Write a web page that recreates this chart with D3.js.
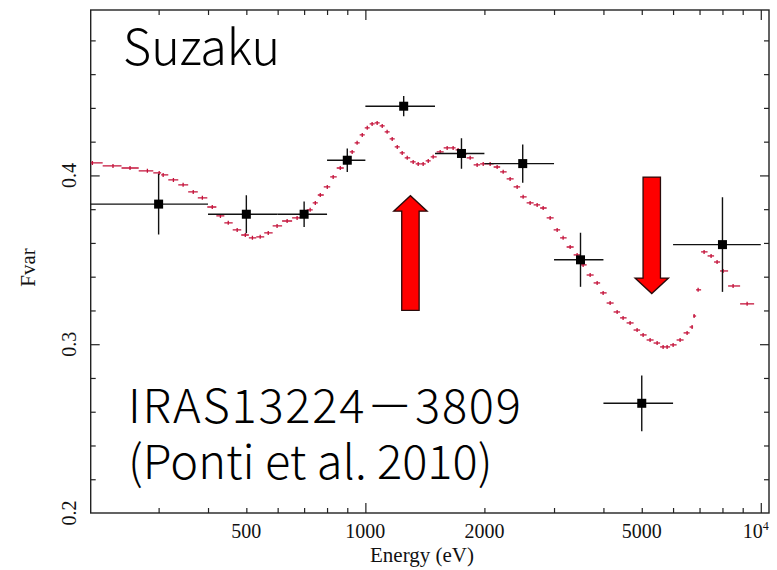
<!DOCTYPE html>
<html>
<head>
<meta charset="utf-8">
<script src="https://cdn.jsdelivr.net/npm/d3@7/dist/d3.min.js"></script>
<style>
  html, body { margin: 0; padding: 0; background: #fff; }
  svg { display: block; }
</style>
</head>
<body>
<svg id="chart" width="777" height="570"></svg>
<script>
// Fractional variability measured in energy bins (eV)
const binCenter = [300, 500, 700, 900, 1250, 1750, 2500, 3500, 5000, 8000];
const binLow    = [200, 400, 600, 800, 1000, 1500, 2000, 3000, 4000, 6000];
const binHigh   = [400, 600, 800, 1000, 1500, 2000, 3000, 4000, 6000, 10000];
const fvar      = [0.383, 0.377, 0.377, 0.409, 0.441, 0.413, 0.407, 0.350, 0.265, 0.359];
const fvarErr   = [0.018, 0.0113, 0.0075, 0.007, 0.006, 0.009, 0.0113, 0.016, 0.0165, 0.028];

// Model Fvar spectrum, one value per model bin
const modelEnergy = [
  204, 230, 254, 281, 301, 308, 327, 346, 367, 387,
  410, 430, 450, 474, 497, 518, 542, 568, 598, 634,
  672, 696, 725, 747, 769, 801, 829, 864, 900, 926,
  953, 982, 1011, 1040, 1071, 1103, 1135, 1169, 1204, 1239,
  1276, 1321, 1360, 1400, 1442, 1484, 1546, 1610, 1667, 1716,
  1767, 1841, 1917, 1986, 2068, 2154, 2231, 2323, 2420, 2506,
  2610, 2719, 2816, 2933, 3055, 3163, 3295, 3432, 3554, 3702,
  3856, 3993, 4159, 4332, 4485, 4672, 4866, 5040, 5249, 5468,
  5662, 5795, 6002, 6251, 6511, 6703, 6782, 6942, 7188, 7487,
  7753, 8029, 8511, 9235
];
const modelFvar = [
  0.4074, 0.4056, 0.4044, 0.4027, 0.4015, 0.4003, 0.3973, 0.3944, 0.3902, 0.3867,
  0.3813, 0.3760, 0.3719, 0.3677, 0.3647, 0.3630, 0.3636, 0.3659, 0.3701, 0.3730,
  0.3748, 0.3766, 0.3796, 0.3837, 0.3884, 0.3932, 0.3991, 0.4044, 0.4092, 0.4139,
  0.4193, 0.4240, 0.4282, 0.4305, 0.4311, 0.4293, 0.4258, 0.4216, 0.4169, 0.4133,
  0.4104, 0.4080, 0.4068, 0.4068, 0.4086, 0.4110, 0.4139, 0.4163, 0.4163, 0.4151,
  0.4127, 0.4104, 0.4062, 0.4068, 0.4068, 0.4050, 0.4021, 0.3979, 0.3932, 0.3873,
  0.3837, 0.3825, 0.3807, 0.3748, 0.3677, 0.3630, 0.3576, 0.3529, 0.3470, 0.3410,
  0.3363, 0.3304, 0.3244, 0.3191, 0.3156, 0.3126, 0.3084, 0.3055, 0.3025, 0.3007,
  0.2984, 0.2984, 0.2996, 0.3025, 0.3067, 0.3102, 0.3167, 0.3322, 0.3547, 0.3523,
  0.3487, 0.3434, 0.3345, 0.3239
];

// Axis ticks and labels
const xMajorTicks = [1000, 10000];
const xMinorTicks = [300, 400, 500, 600, 700, 800, 900, 2000, 3000, 4000, 5000, 6000, 7000, 8000, 9000];
const xLabelValues = [500, 1000, 2000, 5000];
const xLabelText = ["500", "1000", "2000", "5000"];
const yMajorTicks = [0.3, 0.4];
const yMinorTicks = [0.22, 0.24, 0.26, 0.28, 0.32, 0.34, 0.36, 0.38, 0.42, 0.44, 0.46, 0.48];
const yLabelValues = [0.2, 0.3, 0.4];
const yLabelText = ["0.2", "0.3", "0.4"];

// Highlight arrows: energy, tail value, head value
const arrowEnergy = [1300, 5300];
const arrowFrom   = [0.320, 0.399];
const arrowTo     = [0.388, 0.330];

const svg = d3.select("#chart");
const plotL = 90.7, plotR = 769, plotT = 10, plotB = 513;

const x = d3.scaleLog().domain([202, 10490]).range([plotL, plotR]);
const y = d3.scaleLinear().domain([0.2, 0.498]).range([plotB, plotT]);

const serif = "'Liberation Serif', 'Times New Roman', serif";
const gothic = "'Noto Sans CJK JP', 'Noto Sans', sans-serif";

svg.append("defs").append("clipPath").attr("id", "plotClip")
  .append("rect").attr("x", plotL).attr("y", plotT)
  .attr("width", plotR - plotL).attr("height", plotB - plotT);

// Ticks on all four sides, pointing inward
function tickAxis(axisFn, scale, values, size, transform) {
  const g = svg.append("g").attr("transform", transform)
    .call(axisFn(scale).tickValues(values).tickSizeInner(size).tickSizeOuter(0).tickFormat(""));
  g.select(".domain").remove();
  g.selectAll("line").attr("stroke", "#222").attr("stroke-width", 1.2);
}
tickAxis(d3.axisBottom, x, xMinorTicks, -5, `translate(0,${plotB})`);
tickAxis(d3.axisBottom, x, xMajorTicks, -10, `translate(0,${plotB})`);
tickAxis(d3.axisTop, x, xMinorTicks, -5, `translate(0,${plotT})`);
tickAxis(d3.axisTop, x, xMajorTicks, -10, `translate(0,${plotT})`);
tickAxis(d3.axisLeft, y, yMinorTicks, -5, `translate(${plotL},0)`);
tickAxis(d3.axisLeft, y, yMajorTicks, -9, `translate(${plotL},0)`);
tickAxis(d3.axisRight, y, yMinorTicks, -5, `translate(${plotR},0)`);
tickAxis(d3.axisRight, y, yMajorTicks, -9, `translate(${plotR},0)`);

svg.append("rect")
  .attr("x", plotL).attr("y", plotT)
  .attr("width", plotR - plotL).attr("height", plotB - plotT)
  .attr("fill", "none").attr("stroke", "#222").attr("stroke-width", 1.4);

// Tick labels
const xl = svg.append("g").attr("font-family", serif).attr("font-size", 20)
  .attr("fill", "#111").attr("text-anchor", "middle");
xl.selectAll("text.xl").data(xLabelValues).join("text")
  .attr("class", "xl")
  .attr("x", d => x(d)).attr("y", 538)
  .text((d, i) => xLabelText[i]);
const pow = xl.append("text").attr("x", x(10000) - 5).attr("y", 538);
pow.append("tspan").text("10");
pow.append("tspan").attr("font-size", 12).attr("dy", -8).text("4");

const yl = svg.append("g").attr("font-family", serif).attr("font-size", 20)
  .attr("fill", "#111").attr("text-anchor", "middle");
yl.selectAll("text").data(yLabelValues).join("text")
  .attr("transform", d => `translate(76,${y(d)}) rotate(-90)`)
  .text((d, i) => yLabelText[i]);

// Axis titles
svg.append("text")
  .attr("x", 422).attr("y", 562)
  .attr("font-family", serif).attr("font-size", 21).attr("fill", "#111")
  .attr("text-anchor", "middle").text("Energy (eV)");
svg.append("text")
  .attr("transform", `translate(35,${(plotT + plotB) / 2 + 6}) rotate(-90)`)
  .attr("font-family", serif).attr("font-size", 21).attr("fill", "#111")
  .attr("text-anchor", "middle").text("Fvar");

const plot = svg.append("g").attr("clip-path", "url(#plotClip)");

// Model: each bin drawn as a horizontal step with a small vertical bar
const mx = modelEnergy.map(e => x(e));
const model = plot.append("g").attr("stroke", "#c4123a").attr("stroke-width", 1.3).attr("fill", "none");
modelEnergy.forEach((e, i) => {
  const cx = mx[i], cy = y(modelFvar[i]);
  const lo = i > 0 ? (mx[i - 1] + cx) / 2 : cx - 3;
  const hi = i < mx.length - 1 ? (mx[i + 1] + cx) / 2 : cx + 7;
  model.append("line").attr("x1", lo).attr("x2", hi).attr("y1", cy).attr("y2", cy);
  model.append("line").attr("x1", cx).attr("x2", cx).attr("y1", cy - 2).attr("y2", cy + 2);
});

// Measured points with error bars
const pts = plot.append("g");
binCenter.forEach((e, i) => {
  const cx = x(e), cy = y(fvar[i]);
  pts.append("line").attr("x1", x(binLow[i])).attr("x2", x(binHigh[i]))
    .attr("y1", cy).attr("y2", cy).attr("stroke", "#111").attr("stroke-width", 1.4);
  pts.append("line").attr("x1", cx).attr("x2", cx)
    .attr("y1", y(fvar[i] + fvarErr[i])).attr("y2", y(fvar[i] - fvarErr[i]))
    .attr("stroke", "#111").attr("stroke-width", 1.4);
  pts.append("rect").attr("x", cx - 4.5).attr("y", cy - 4.5)
    .attr("width", 9).attr("height", 9).attr("fill", "#000");
});

// Arrows
const shaftHalf = 8.7, headHalf = 16.7, headLen = 15.5;
arrowEnergy.forEach((e, i) => {
  const cx = x(e), y0 = y(arrowFrom[i]), y1 = y(arrowTo[i]);
  const dir = y1 < y0 ? -1 : 1;
  const hb = y1 - dir * headLen;
  const outline = [
    [cx - shaftHalf, y0], [cx - shaftHalf, hb], [cx - headHalf, hb], [cx, y1],
    [cx + headHalf, hb], [cx + shaftHalf, hb], [cx + shaftHalf, y0]
  ];
  svg.append("path")
    .attr("d", d3.line()(outline) + "Z")
    .attr("fill", "#ff0000").attr("stroke", "#2a0a0a").attr("stroke-width", 1.3)
    .attr("stroke-linejoin", "miter");
});

// Annotations
svg.append("text").attr("x", 123).attr("y", 65)
  .attr("font-family", gothic).attr("font-weight", 300).attr("font-size", 49)
  .attr("textLength", 157).attr("lengthAdjust", "spacingAndGlyphs")
  .attr("fill", "#000").text("Suzaku");
const source = svg.append("text")
  .attr("font-family", gothic).attr("font-weight", 300).attr("font-size", 47)
  .attr("fill", "#000");
source.append("tspan").attr("x", 128).attr("y", 423)
  .attr("letter-spacing", 1.8).text("IRAS13224－3809");
source.append("tspan").attr("x", 128).attr("y", 479)
  .text("(Ponti et al. 2010)");
</script>
</body>
</html>
